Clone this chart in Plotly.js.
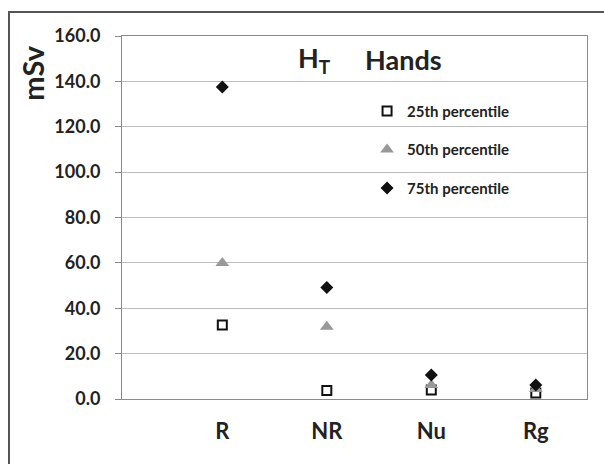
<!DOCTYPE html>
<html><head><meta charset="utf-8">
<script src="https://cdn.plot.ly/plotly-3.0.1.min.js"></script>
<style>
body{margin:0;padding:0;background:#fff;}
#wrap{position:relative;width:604px;height:464px;}
#chart{width:604px;height:464px;}
#frame{position:absolute;left:8px;top:11px;width:620px;height:480px;border-left:2px solid #555;border-top:2px solid #555;pointer-events:none;}
</style></head>
<body><div id="wrap"><div id="chart"></div><div id="frame"></div></div>
<script>
const categories = ["R", "NR", "Nu", "Rg"];
const p25 = [32.6, 3.7, 4.0, 2.6];
const p50 = [60.0, 31.9, 6.2, 4.4];
const p75 = [137.5, 49.2, 10.6, 6.2];
const seriesNames = ["25th percentile", "50th percentile", "75th percentile"];
const yTicks = [0, 20, 40, 60, 80, 100, 120, 140, 160];

const xIdx = categories.map((c, i) => i);
const font = "Lato, 'Open Sans', sans-serif";

const traces = [
  {x: xIdx, y: p25, name: seriesNames[0], mode: "markers", type: "scatter", legendgroup: "a",
   marker: {symbol: "square-open", size: 9, color: "#111", line: {width: 2, color: "#111"}}},
  {x: xIdx, y: p50, name: seriesNames[1], mode: "markers", type: "scatter", legendgroup: "b",
   marker: {symbol: "triangle-up", size: 12, color: "#999999"}},
  {x: xIdx, y: p75, name: seriesNames[2], mode: "markers", type: "scatter", legendgroup: "c",
   marker: {symbol: "diamond", size: 10, color: "#111"}}
];

const layout = {
  width: 604, height: 464,
  margin: {l: 122, r: 17, t: 36, b: 65},
  paper_bgcolor: "#fff", plot_bgcolor: "#fff",
  showlegend: true,
  legend: {x: 0.527, y: 0.838, xanchor: "left", yanchor: "top", traceorder: "grouped", tracegroupgap: 16,
           font: {family: font, size: 15, color: "#222", weight: "bold"}, bgcolor: "rgba(0,0,0,0)", itemwidth: 30},
  xaxis: {range: [-0.96, 3.49], tickmode: "array", tickvals: xIdx, ticktext: categories,
          showgrid: false, zeroline: false, showline: true, mirror: true, linecolor: "#8a8a8a", linewidth: 1,
          ticks: "", ticklabelstandoff: 13,
          tickfont: {family: font, size: 22, color: "#222", weight: "bold"}},
  yaxis: {range: [0, 160], tickmode: "array", tickvals: yTicks, ticktext: yTicks.map(v => v.toFixed(1)),
          showgrid: true, gridcolor: "#bdbdbd", gridwidth: 1, zeroline: false,
          showline: true, mirror: true, linecolor: "#8a8a8a", linewidth: 1,
          ticks: "outside", ticklen: 6, tickcolor: "#8a8a8a", ticklabelstandoff: 11,
          tickfont: {family: font, size: 18, color: "#222", weight: "bold"}},
  annotations: [
    {text: "mSv", xref: "paper", yref: "paper", x: -0.193, y: 0.897, xanchor: "center", yanchor: "middle",
     textangle: -90, showarrow: false,
     font: {family: font, size: 29, color: "#222", weight: "bold"}},
    {text: "H<sub>T</sub>", xref: "paper", yref: "paper", x: 0.415, y: 0.935, xanchor: "center", yanchor: "middle", showarrow: false,
     font: {family: font, size: 27, color: "#222", weight: "bold"}},
    {text: "Hands", xref: "paper", yref: "paper", x: 0.606, y: 0.935, xanchor: "center", yanchor: "middle", showarrow: false,
     font: {family: font, size: 27, color: "#222", weight: "bold"}}
  ]
};

Plotly.newPlot("chart", traces, layout, {displayModeBar: false, staticPlot: true});
</script></body></html>
